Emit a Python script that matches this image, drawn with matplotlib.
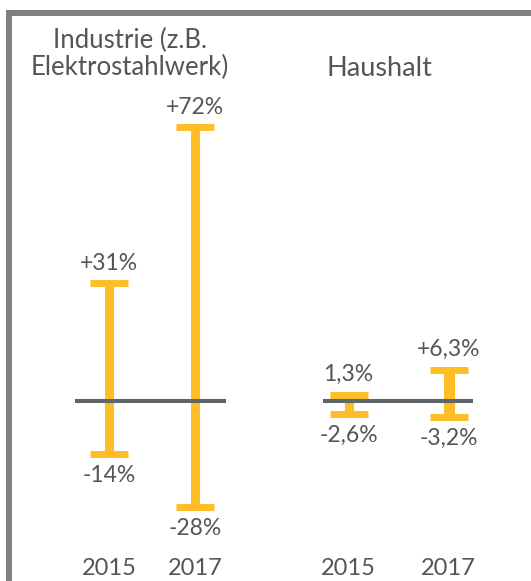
import matplotlib
matplotlib.use("Agg")
import matplotlib.pyplot as plt
from matplotlib.patches import Rectangle

plt.rcParams["font.family"] = ["Lato", "DejaVu Sans"]

# data
years = ["2015", "2017"]
industrie_high = [31, 72]
industrie_low = [-14, -28]
industrie_labels_high = ["+31%", "+72%"]
industrie_labels_low = ["-14%", "-28%"]
haushalt_high = [1.3, 6.3]
haushalt_low = [-2.6, -3.2]
haushalt_labels_high = ["1,3%", "+6,3%"]
haushalt_labels_low = ["-2,6%", "-3,2%"]

YELLOW = "#FFBD26"
ZERO = "#5E6667"
TEXT = "#555555"
FRAME = "#808080"

W, H = 531, 581
fig = plt.figure(figsize=(W / 100, H / 100), dpi=100)


def px_box(x0, x1, ytop, ybot):
    return [x0 / W, (H - ybot) / H, (x1 - x0) / W, (ybot - ytop) / H]


def draw_group(ax, highs, lows, lab_hi, lab_lo, widths, fs):
    xs = range(len(highs))
    for x, hi, lo, w in zip(xs, highs, lows, widths):
        ax.errorbar([x], [0], yerr=[[-lo], [hi]], fmt="none", ecolor=YELLOW,
                    elinewidth=w, capsize=13.7, capthick=5, zorder=2)
        ax.annotate(lab_hi[x], (x, hi), xytext=(0, 14.5), textcoords="offset points",
                    ha="center", va="center", fontsize=fs, color=TEXT)
        ax.annotate(lab_lo[x], (x, lo), xytext=(0, -15.5), textcoords="offset points",
                    ha="center", va="center", fontsize=fs, color=TEXT)
    ax.axhline(0, color=ZERO, lw=2.9, zorder=3)
    ax.set_xticks(list(xs), labels=years)
    ax.tick_params(axis="x", length=0, pad=13, labelsize=17, labelcolor=TEXT)
    ax.set_yticks([])
    for s in ax.spines.values():
        s.set_visible(False)
    ax.patch.set_alpha(0)


# Industrie: zero at y=401px, 3.8 px per %
ax1 = fig.add_axes(px_box(75, 226, 100, 540))
ax1.set_xlim(-0.395, 1.36)
ax1.set_ylim(-(540 - 401) / 3.8, (401 - 100) / 3.8)
draw_group(ax1, industrie_high, industrie_low, industrie_labels_high,
           industrie_labels_low, [6.5, 6.5], 16.5)

# Haushalt: own scale, 5 px per %
ax2 = fig.add_axes(px_box(323, 473, 100, 540))
ax2.set_xlim(-0.255, 1.245)
ax2.set_ylim(-(540 - 401) / 5.0, (401 - 100) / 5.0)
draw_group(ax2, haushalt_high, haushalt_low, haushalt_labels_high,
           haushalt_labels_low, [6.5, 8], 16.5)

fig.text(130 / W, 1 - 54 / H, "Industrie (z.B.\nElektrostahlwerk)", ha="center",
         va="center", fontsize=18.5, color=TEXT, linespacing=1.1)
fig.text(379 / W, 1 - 68 / H, "Haushalt", ha="center", va="center",
         fontsize=19.5, color=TEXT)

# frame, open to the right and bottom
fig.add_artist(Rectangle((9 / W, -0.1), 1.2, 1.1 - 13 / H, transform=fig.transFigure,
                         fill=False, edgecolor=FRAME, lw=4.3, clip_on=False))

fig.savefig("out.png", dpi=100)
